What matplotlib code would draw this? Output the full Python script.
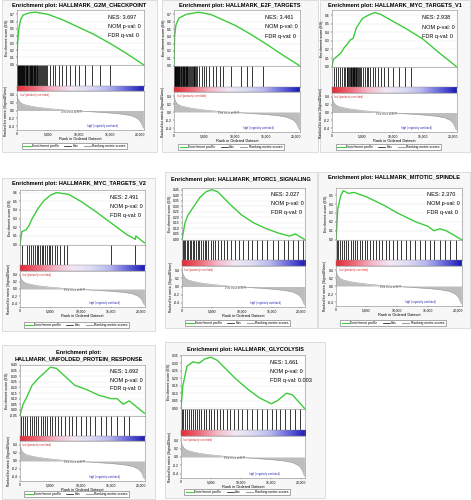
import numpy as np
import matplotlib
matplotlib.use("Agg")
import matplotlib.pyplot as plt
from matplotlib.colors import LinearSegmentedColormap
from matplotlib.patches import Rectangle
from matplotlib.lines import Line2D
from matplotlib.ticker import FuncFormatter

plt.rcParams['font.family'] = ['Liberation Sans', 'DejaVu Sans']

W, H = 471, 500

# ---------------- data ----------------
titles = ["Enrichment plot: HALLMARK_G2M_CHECKPOINT",
          "Enrichment plot: HALLMARK_E2F_TARGETS",
          "Enrichment plot: HALLMARK_MYC_TARGETS_V1",
          "Enrichment plot: HALLMARK_MYC_TARGETS_V2",
          "Enrichment plot: HALLMARK_MTORC1_SIGNALING",
          "Enrichment plot: HALLMARK_MITOTIC_SPINDLE",
          "Enrichment plot:\nHALLMARK_UNFOLDED_PROTEIN_RESPONSE",
          "Enrichment plot: HALLMARK_GLYCOLYSIS"]
nes = ["3.697", "3.461", "2.938", "2.491", "2.027", "2.370", "1.692", "1.661"]
nom_p = ["0", "0", "0", "0", "0", "0", "0", "0"]
fdr_q = ["0", "0", "0", "0", "0", "0", "0", "0.003"]

# ES curves: rank (x1000) and ES values
es_rank = [
    [0, 0.1, 0.3, 0.6, 1.0, 2.0, 3.0, 5.0, 7.5, 10, 12.5, 15, 17.5, 20.5],
    [0, 0.1, 0.3, 0.8, 2.0, 4.0, 6.0, 10, 12.5, 15, 17.5, 20.5],
    [0, 0.2, 1.0, 1.5, 2.0, 2.5, 3.0, 3.5, 4.0, 5.0, 6.0, 7.0, 8.0, 10, 12.5, 15, 17.5, 20.5],
    [0, 0.3, 1.0, 1.5, 2.0, 2.5, 3.0, 4.0, 5.0, 6.0, 7.0, 8.0, 10, 12.5, 15, 17.5, 19.0, 19.1, 20.5],
    [0, 0.5, 1.0, 2.0, 3.0, 4.0, 5.0, 6.0, 8.0, 10, 12, 14, 16, 18, 19, 20.5],
    [0, 0.3, 0.8, 1.2, 2.0, 3.0, 5.0, 8.0, 10, 13, 15, 16, 17, 18, 19, 20.5],
    [0, 0.5, 1.0, 2.0, 3.0, 4.0, 5.0, 6.0, 7.0, 9.0, 11, 13, 15, 16, 17, 18, 20.5],
    [0, 0.3, 1.0, 2.0, 3.0, 4.0, 5.0, 6.0, 7.0, 9.0, 11, 13, 15, 16, 17.5, 18.5, 20.5],
]
es_vals = [
    [0.0, 0.30, 0.50, 0.63, 0.69, 0.72, 0.73, 0.70, 0.62, 0.52, 0.42, 0.30, 0.17, 0.0],
    [0.0, 0.40, 0.55, 0.65, 0.70, 0.73, 0.70, 0.55, 0.43, 0.30, 0.16, 0.0],
    [0.0, 0.08, 0.13, 0.16, 0.22, 0.26, 0.31, 0.33, 0.45, 0.56, 0.60, 0.63, 0.61, 0.53, 0.43, 0.32, 0.17, 0.0],
    [0.0, 0.15, 0.17, 0.22, 0.30, 0.36, 0.42, 0.51, 0.57, 0.60, 0.59, 0.58, 0.50, 0.38, 0.25, 0.12, 0.06, 0.10, 0.02],
    [0.0, 0.15, 0.22, 0.30, 0.38, 0.43, 0.45, 0.43, 0.32, 0.22, 0.15, 0.10, 0.06, 0.03, 0.05, 0.0],
    [0.0, 0.35, 0.50, 0.55, 0.52, 0.53, 0.48, 0.38, 0.30, 0.20, 0.15, 0.10, 0.12, 0.10, 0.06, 0.0],
    [-0.05, 0.05, 0.10, 0.22, 0.28, 0.33, 0.38, 0.37, 0.32, 0.22, 0.18, 0.13, 0.10, 0.10, 0.05, 0.08, -0.03],
    [0.0, 0.15, 0.28, 0.31, 0.30, 0.33, 0.34, 0.32, 0.28, 0.20, 0.13, 0.07, 0.03, 0.05, 0.10, 0.09, 0.0],
]
es_ticks = [
    [0.0, 0.1, 0.2, 0.3, 0.4, 0.5, 0.6, 0.7],
    [0.0, 0.1, 0.2, 0.3, 0.4, 0.5, 0.6, 0.7],
    [0.0, 0.1, 0.2, 0.3, 0.4, 0.5, 0.6],
    [0.0, 0.1, 0.2, 0.3, 0.4, 0.5, 0.6],
    [0.0, 0.05, 0.10, 0.15, 0.20, 0.25, 0.30, 0.35, 0.40, 0.45],
    [0.0, 0.1, 0.2, 0.3, 0.4, 0.5],
    [-0.05, 0.0, 0.05, 0.10, 0.15, 0.20, 0.25, 0.30, 0.35, 0.40],
    [0.0, 0.05, 0.10, 0.15, 0.20, 0.25, 0.30, 0.35],
]

# hit positions (rank x1000)
hits = [
    [0.05, 0.12, 0.2, 0.28, 0.35, 0.42, 0.5, 0.6, 0.7, 0.78, 0.85, 0.95, 1.0, 1.1, 1.2, 1.3, 1.4,
     1.45, 1.55, 1.6, 1.7, 1.8, 1.95, 2.05, 2.1, 2.2, 2.3, 2.4, 2.5, 2.6, 2.7, 2.8, 2.9, 3.0, 3.1,
     3.2, 3.3, 3.45, 3.6, 3.75, 3.9, 4.05, 4.2, 4.35, 4.5, 4.7, 4.9, 5.3, 5.8, 6.2, 6.8, 7.3, 7.9,
     8.6, 9.4, 10.1, 11.0, 12.2, 13.5, 15.1],
    [0.05, 0.1, 0.15, 0.22, 0.3, 0.38, 0.45, 0.52, 0.6, 0.7, 0.8, 0.88, 0.95, 1.1, 1.2, 1.3, 1.4,
     1.5, 1.6, 1.7, 1.8, 1.9, 2.0, 2.1, 2.2, 2.3, 2.45, 2.6, 2.75, 2.9, 3.05, 3.2, 3.35, 3.5, 3.65,
     3.8, 4.1, 4.5, 4.9, 5.3, 5.8, 6.3, 6.9, 7.5, 8.0, 9.3, 11.0, 12.0, 12.8, 14.5],
    [0.3, 0.6, 1.0, 1.3, 1.6, 1.9, 2.2, 2.4, 2.55, 2.7, 2.85, 3.0, 3.1, 3.2, 3.3, 3.4, 3.5, 3.6,
     3.7, 3.8, 3.9, 4.0, 4.15, 4.3, 4.5, 4.65, 4.8, 5.1, 5.4, 5.7, 6.0, 6.3, 6.7, 7.1, 7.5, 8.0,
     8.6, 9.2, 10.0, 11.0, 12.1, 13.1],
    [0.3, 1.2, 1.5, 1.8, 2.1, 2.5, 2.8, 3.0, 3.3, 3.6, 3.8, 4.1, 4.4, 4.7, 5.0, 5.3, 5.7, 6.1, 6.6,
     7.2, 7.8, 15.0, 19.0],
    [0.1, 0.3, 0.5, 0.8, 1.0, 1.3, 1.5, 1.8, 2.0, 2.3, 2.6, 2.9, 3.2, 3.5, 3.8, 4.1, 4.4, 4.8, 5.2,
     5.6, 6.0, 6.5, 7.0, 7.6, 8.2, 8.8, 9.5, 10.2, 11.0, 11.8, 12.6, 13.4, 14.3, 15.2, 16.0, 17.0,
     17.8, 18.6, 19.5, 20.2],
    [0.1, 0.3, 0.6, 0.9, 1.3, 1.7, 2.0, 2.4, 2.8, 3.1, 3.5, 3.9, 4.3, 4.7, 5.1, 5.5, 6.0, 6.5, 7.0,
     7.5, 8.1, 8.7, 9.3, 10.0, 10.7, 11.4, 12.1, 12.9, 13.7, 14.5, 15.3, 16.1, 17.0, 17.9, 18.7, 19.6],
    [0.2, 0.5, 0.9, 1.2, 1.6, 2.0, 2.3, 2.7, 3.0, 3.4, 3.8, 4.1, 4.5, 4.9, 5.3, 5.8, 6.3, 6.8, 7.4,
     8.0, 8.6, 9.3, 10.0, 10.8, 11.6, 12.4, 13.3, 14.2, 15.0, 16.0, 17.2, 18.0],
    [0.1, 0.4, 0.7, 1.0, 1.3, 1.6, 2.0, 2.3, 2.7, 3.0, 3.4, 3.8, 4.2, 4.6, 5.0, 5.5, 6.0, 6.5, 7.0,
     7.6, 8.2, 8.8, 9.5, 10.2, 11.0, 11.8, 12.6, 13.5, 14.3, 15.1, 15.8, 16.5, 17.3, 18.1, 19.0, 19.8],
]

# ranked list metric (shared dataset)
rank_x = [0, 0.2, 0.5, 1.0, 2.0, 3.0, 5.0, 7.0, 9.0, 11, 13, 15, 17, 18.5, 19.5, 20.0, 20.5]
rank_y = [0.38, 0.28, 0.21, 0.16, 0.12, 0.09, 0.05, 0.02, 0.0, -0.02, -0.04, -0.06, -0.09, -0.13,
          -0.20, -0.28, -0.45]
rank_ticks = [-0.4, -0.2, 0.0, 0.2, 0.4]
x_ticks = [0, 5, 10, 15, 20]

# ---------------- layout (pixels) ----------------
# (left, right, es_top, es_bottom, hits_bottom, cbar_bottom, rank_bottom)
axes_px = [
    (17, 144, 10, 65, 86, 91, 130),
    (174, 300, 10, 66, 87, 92, 132),
    (332, 457, 10, 67, 87, 93, 132),
    (20, 145, 190, 245, 265, 271, 307),
    (182, 305, 188, 240, 260, 266, 307),
    (336, 462, 188, 240, 260, 266, 306),
    (20, 145, 365, 416, 436, 441, 481),
    (181, 305, 355, 409, 430, 436, 478),
]
title_y = [5, 5, 5, 184, 179, 178, 356, 349]
legend_y = [146, 147, 147, 325, 323, 323, 494, 492]
panel_box = [(2, 157, 0, 152), (162, 318, 0, 152), (320, 470, 0, 152),
             (2, 155, 178, 331), (165, 317, 172, 328), (318, 470, 172, 328),
             (2, 155, 345, 499), (165, 325, 342, 498)]

fig = plt.figure(figsize=(W / 100, H / 100), dpi=100)
fig.patch.set_facecolor('white')


def fx(x):
    return x / W


def fy(y):
    return 1 - y / H


def add_ax(l, r, t, b):
    return fig.add_axes([fx(l), fy(b), (r - l) / W, (b - t) / H])


cmap = LinearSegmentedColormap.from_list(
    "rb", ["#e02a36", "#ee6a78", "#f5b8c8", "#f2e8f4", "#dcdcf4", "#b8b8ee", "#6868dc", "#1a1ab8"])

thou = FuncFormatter(lambda v, p: "{:,}".format(int(round(v * 1000))))
tick_fs = 2.4
XMAX = 20.6

for i in range(8):
    l, r, t, b, hb, cb, rb = axes_px[i]
    bl, br, bt, bb = panel_box[i]
    fig.patches.append(Rectangle((fx(bl), fy(bb)), (br - bl) / W, (bb - bt) / H,
                                 transform=fig.transFigure, facecolor='#f7f7f7',
                                 edgecolor='#d8d8d8', linewidth=0.6, zorder=-5))
    fig.text(fx((bl + br) / 2), fy(title_y[i]), titles[i], ha='center', va='center',
             fontsize=4.1, fontweight='bold', linespacing=1.3)

    # ES axes
    ax = add_ax(l, r, t, b)
    ax.plot(es_rank[i], es_vals[i], color='#3ccc3c', lw=1.0)
    ax.set_xlim(0, XMAX)
    yt = es_ticks[i]
    ax.set_ylim(min(yt[0], min(es_vals[i])) - 0.005, max(es_vals[i]) + (yt[1] - yt[0]) * 0.3)
    ax.set_yticks(yt)
    dec = 2 if (yt[1] - yt[0]) < 0.1 else 1
    ax.set_yticklabels([("{:.%df}" % dec).format(v) for v in yt])
    ax.set_xticks([])
    ax.grid(True, axis='y', color='#e6e6e6', lw=0.3)
    ax.tick_params(labelsize=tick_fs, length=1, width=0.3, pad=0.5)
    ax.set_ylabel("Enrichment score (ES)", fontsize=2.6, labelpad=1)
    for s in ax.spines.values():
        s.set_linewidth(0.4)
        s.set_color('#888888')
    ax.text(0.72, 0.87, "NES: " + nes[i], transform=ax.transAxes, fontsize=4.0, va='center')
    ax.text(0.72, 0.70, "NOM p-val: " + nom_p[i], transform=ax.transAxes, fontsize=4.0, va='center')
    ax.text(0.72, 0.53, "FDR q-val: " + fdr_q[i], transform=ax.transAxes, fontsize=4.0, va='center')

    # hits
    axh = add_ax(l, r, b, hb)
    axh.vlines(hits[i], 0, 1, color='black', lw=0.55)
    axh.set_xlim(0, XMAX)
    axh.set_ylim(0, 1)
    axh.set_xticks([])
    axh.set_yticks([])
    for s in axh.spines.values():
        s.set_linewidth(0.4)
        s.set_color('#888888')

    # colour bar
    axc = add_ax(l, r, hb, cb)
    grad = np.linspace(0, 1, 256).reshape(1, -1)
    axc.imshow(grad, aspect='auto', cmap=cmap, extent=(0, XMAX, 0, 1))
    axc.set_xlim(0, XMAX)
    axc.set_xticks([])
    axc.set_yticks([])
    for s in axc.spines.values():
        s.set_linewidth(0.3)
        s.set_color('#888888')

    # ranked metric
    axr = add_ax(l, r, cb, rb)
    axr.fill_between(rank_x, rank_y, 0, color='#bdbdbd', lw=0)
    axr.plot(rank_x, rank_y, color='#a0a0a0', lw=0.4)
    axr.set_xlim(0, XMAX)
    axr.set_ylim(-0.5, 0.5)
    axr.set_yticks(rank_ticks)
    axr.set_yticklabels(["{:.1f}".format(v) for v in rank_ticks])
    axr.set_xticks(x_ticks)
    axr.xaxis.set_major_formatter(thou)
    axr.tick_params(labelsize=tick_fs, length=1, width=0.3, pad=0.5)
    axr.set_xlabel("Rank in Ordered Dataset", fontsize=2.8, labelpad=0.8)
    axr.set_ylabel("Ranked list metric (Signal2Noise)", fontsize=2.4, labelpad=1)
    for s in axr.spines.values():
        s.set_linewidth(0.4)
        s.set_color('#888888')
    axr.text(0.02, 0.90, "'low' (positively correlated)", transform=axr.transAxes,
             fontsize=1.8, color='#d02020', va='center')
    axr.text(0.35, 0.47, "Zero cross at 8977", transform=axr.transAxes,
             fontsize=1.8, color='#444444', va='center')
    axr.text(0.55, 0.10, "'high' (negatively correlated)", transform=axr.transAxes,
             fontsize=1.8, color='#2020b0', va='center')

    # legend
    handles = [Line2D([], [], color='#3ccc3c', lw=0.8),
               Line2D([], [], color='black', lw=0.5),
               Line2D([], [], color='#a0a0a0', lw=0.8)]
    fig.legend(handles, ["Enrichment profile", "Hits", "Ranking metric scores"],
               loc='center', bbox_to_anchor=(fx((l + r) / 2 - 6), fy(legend_y[i])),
               ncol=3, fontsize=2.4, frameon=True, fancybox=False, edgecolor='#666666',
               framealpha=1, handlelength=2.2, handletextpad=0.4, columnspacing=1.5,
               borderpad=0.4, borderaxespad=0).get_frame().set_linewidth(0.4)

fig.savefig("out.png", dpi=100, facecolor='white')
